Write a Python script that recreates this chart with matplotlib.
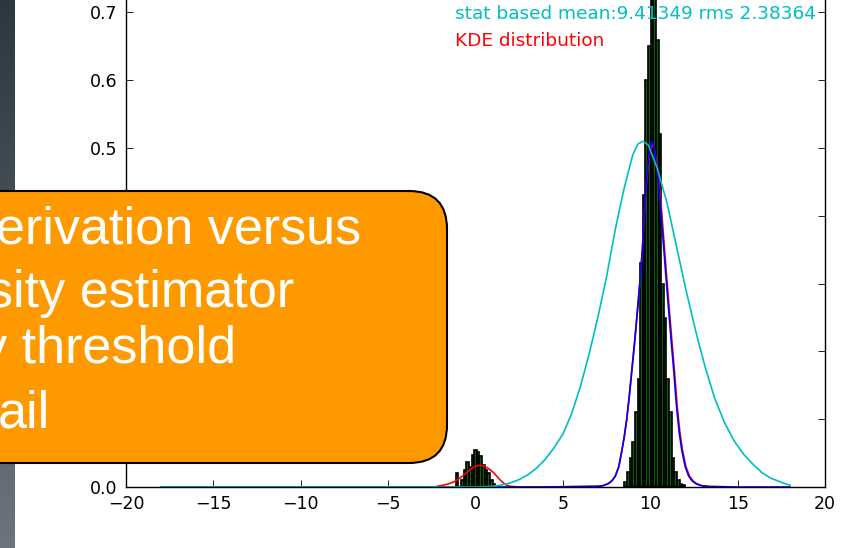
import numpy as np
import matplotlib
matplotlib.use('Agg')
import matplotlib.pyplot as plt
from matplotlib.patches import FancyBboxPatch
from matplotlib.transforms import IdentityTransform
from matplotlib.colors import LinearSegmentedColormap

# histogram bins (centres) and normed heights
bin_width = 0.15
small_centers = [-1.05, -0.90, -0.75, -0.60, -0.45, -0.30, -0.15, 0.00, 0.15,
                 0.30, 0.45, 0.60, 0.75, 0.90, 1.05]
small_heights = [0.020, 0.0, 0.010, 0.025, 0.037, 0.030, 0.047, 0.055, 0.052,
                 0.045, 0.032, 0.025, 0.020, 0.010, 0.005]
big_centers = [8.60, 8.75, 8.90, 9.05, 9.20, 9.35, 9.50, 9.65, 9.80, 9.95,
               10.10, 10.25, 10.40, 10.55, 10.70, 10.85, 11.00, 11.15, 11.30,
               11.45, 11.60, 11.75, 11.90]
big_heights = [0.007, 0.022, 0.043, 0.066, 0.110, 0.160, 0.330, 0.430, 0.600,
               0.650, 0.760, 0.790, 0.660, 0.520, 0.300, 0.250, 0.160, 0.110,
               0.043, 0.022, 0.010, 0.005, 0.003]

# gaussian fit around the main peak (blue)
blue_x = [-18, -10, -2, 4, 7.0, 7.3, 7.6, 7.8, 8.0, 8.2, 8.35, 8.5, 8.65, 8.8,
          8.95, 9.1, 9.25, 9.4, 9.55, 9.7, 9.85, 9.95, 10.08, 10.2, 10.32,
          10.45, 10.6, 10.75, 10.9, 11.05, 11.2, 11.35, 11.5, 11.65, 11.8,
          12.0, 12.2, 12.4, 12.6, 12.9, 13.2, 15, 18]
blue_y = [0, 0, 0, 0, 0.001, 0.002, 0.005, 0.009, 0.016, 0.030, 0.050, 0.072,
          0.099, 0.134, 0.173, 0.212, 0.255, 0.300, 0.350, 0.425, 0.470, 0.495,
          0.510, 0.503, 0.483, 0.455, 0.410, 0.360, 0.310, 0.262, 0.215, 0.170,
          0.120, 0.082, 0.055, 0.030, 0.016, 0.009, 0.005, 0.002, 0.001, 0, 0]

# KDE distribution (red)
red_x = [-2.2, -1.8, -1.5, -1.2, -0.9, -0.6, -0.3, 0.0, 0.25, 0.5, 0.75, 1.0,
         1.25, 1.5, 1.75, 2.0, 2.5, 4.0, 7.0, 7.3, 7.6, 7.8, 8.0, 8.2, 8.35,
         8.5, 8.65, 8.8, 8.95, 9.1, 9.25, 9.4, 9.55, 9.7, 9.85, 9.95, 10.08,
         10.22, 10.35, 10.49, 10.64, 10.79, 10.94, 11.09, 11.24, 11.39, 11.54,
         11.69, 11.84, 12.04, 12.25, 12.45, 12.65, 12.95, 13.3]
red_y = [0.001, 0.003, 0.005, 0.008, 0.013, 0.019, 0.026, 0.031, 0.032, 0.031,
         0.027, 0.022, 0.015, 0.008, 0.003, 0.001, 0.0, 0.0, 0.001, 0.002,
         0.005, 0.009, 0.016, 0.030, 0.050, 0.072, 0.099, 0.134, 0.173, 0.212,
         0.255, 0.300, 0.350, 0.422, 0.466, 0.490, 0.505, 0.500, 0.482, 0.455,
         0.410, 0.360, 0.310, 0.262, 0.215, 0.170, 0.120, 0.082, 0.055, 0.030,
         0.016, 0.009, 0.005, 0.002, 0.001]

# stat based gaussian (cyan)
cyan_x = [-18, -10, -2, 0, 0.5, 1.0, 1.5, 2.0, 2.5, 3.0, 3.5, 4.0, 4.5, 5.0,
          5.5, 6.0, 6.5, 7.0, 7.5, 8.0, 8.5, 9.0, 9.3, 9.6, 9.9, 10.4, 10.95,
          11.5, 12.05, 12.6, 13.15, 13.7, 14.25, 14.8, 15.35, 15.9, 16.4, 16.9,
          17.4, 17.8, 18]
cyan_y = [0, 0, 0, 0, 0.0005, 0.001, 0.003, 0.006, 0.011, 0.018, 0.028, 0.041,
          0.058, 0.078, 0.108, 0.148, 0.196, 0.250, 0.310, 0.380, 0.440, 0.490,
          0.506, 0.510, 0.504, 0.470, 0.420, 0.355, 0.290, 0.230, 0.176, 0.130,
          0.095, 0.068, 0.048, 0.033, 0.021, 0.013, 0.008, 0.004, 0.003]

legend_lines = ['stat based mean:9.41349 rms 2.38364', 'KDE distribution']
box_lines = ['erivation versus', 'sity estimator', 'y threshold', 'ail']

plt.rcParams['xtick.direction'] = 'in'
plt.rcParams['ytick.direction'] = 'in'
plt.rcParams['xtick.top'] = True
plt.rcParams['ytick.right'] = True

fig = plt.figure(figsize=(8.46, 5.48), dpi=100)
fig.patch.set_facecolor('white')

ax = fig.add_axes([126 / 846, 61 / 548, 699 / 846, 542.4 / 548])
ax.bar(small_centers, small_heights, width=bin_width, color='#0c5c0c',
       edgecolor='black', linewidth=1.2)
ax.bar(big_centers, big_heights, width=bin_width, color='#0c5c0c',
       edgecolor='black', linewidth=1.2)
ax.plot(red_x, red_y, color='r', lw=1.2)
ax.plot(blue_x, blue_y, color='b', lw=1.2)
ax.plot(cyan_x, cyan_y, color='c', lw=1.2)

ax.set_xlim(-20, 20)
ax.set_ylim(0, 0.8)
ax.set_xticks(range(-20, 21, 5))
ax.set_yticks(np.arange(0, 0.81, 0.1))
ax.set_xticklabels([str(v).replace('-', '\u2212') for v in range(-20, 21, 5)])
ax.tick_params(labelsize=12.5, length=5, width=0.6, pad=6)
for s in ax.spines.values():
    s.set_linewidth(1.0)

ax.text(0.4707, 0.872, legend_lines[0], color='c', fontsize=13.3,
        va='center', transform=ax.transAxes)
ax.text(0.4707, 0.822, legend_lines[1], color='r', fontsize=13.3,
        va='center', transform=ax.transAxes)

# slide decoration: dark strip on the left
sax = fig.add_axes([0, 0, 14 / 846, 1])
grad = np.linspace(0, 1, 256).reshape(-1, 1)
sax.imshow(grad, aspect='auto',
           cmap=LinearSegmentedColormap.from_list('strip', ['#2c3741', '#6c757d']))
sax.axis('off')

# orange callout box over the chart
box = FancyBboxPatch((-40, 85), 487, 272,
                     boxstyle='round,pad=0,rounding_size=38',
                     transform=IdentityTransform(), facecolor='#fe9a00',
                     edgecolor='black', linewidth=1.5, zorder=10)
fig.add_artist(box)

box_pos = [(-4, 305), (-13, 241), (-19, 185), (-2, 120)]
for txt, (px, py) in zip(box_lines, box_pos):
    fig.text(px, py, txt, transform=IdentityTransform(), color='white',
             fontsize=37.5, family='Liberation Sans', va='baseline', zorder=11)

fig.savefig('out.png', dpi=100)
